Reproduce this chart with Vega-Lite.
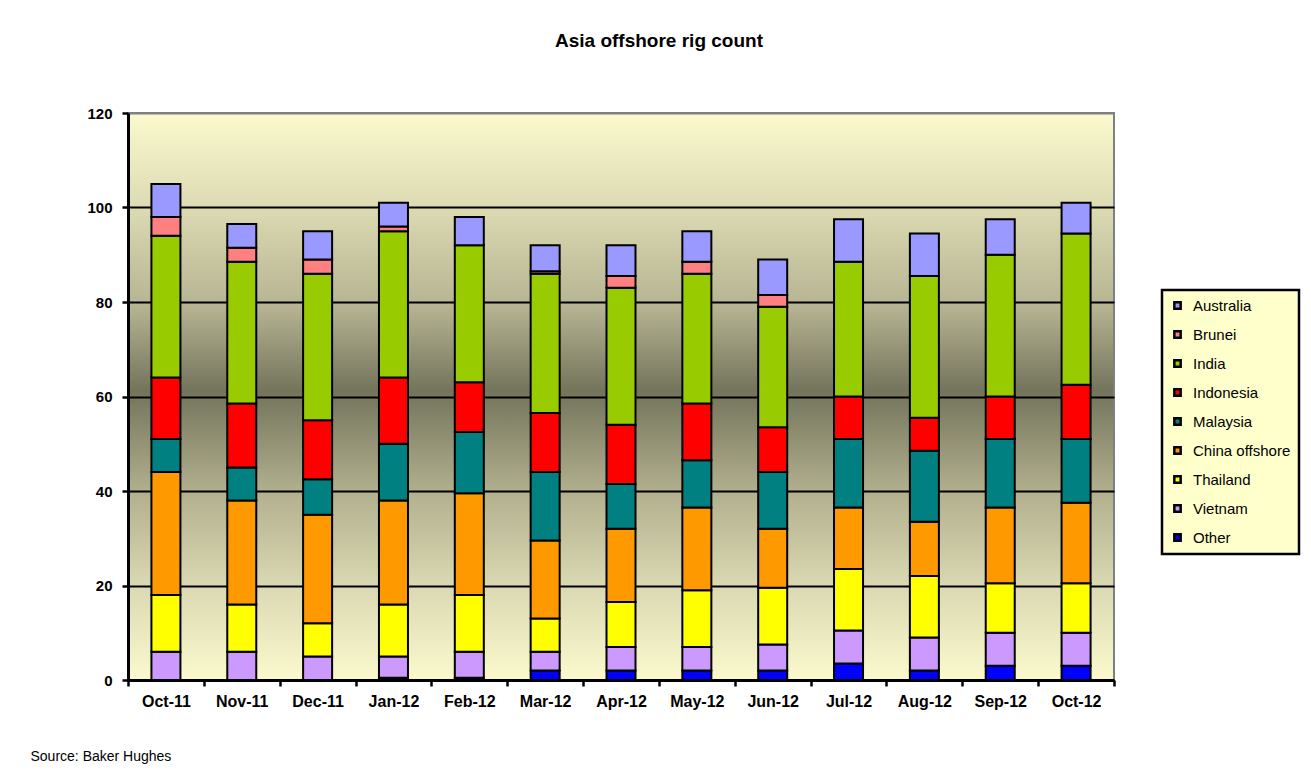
{
  "$schema": "https://vega.github.io/schema/vega-lite/v6.json",
  "width": 986,
  "height": 567,
  "autosize": {"type": "none"},
  "padding": {"left": 128, "top": 113, "right": 197, "bottom": 94},
  "background": "white",
  "title": {
    "text": "Asia offshore rig count",
    "font": "Liberation Sans",
    "fontSize": 19,
    "fontWeight": "bold",
    "color": "black",
    "anchor": "middle",
    "frame": "group",
    "dx": 38,
    "baseline": "alphabetic",
    "offset": 40
  },
  "data": {
    "values": [
      {"month": "Oct-11", "country": "Vietnam", "rigs": 6},
      {"month": "Oct-11", "country": "Thailand", "rigs": 12},
      {"month": "Oct-11", "country": "China offshore", "rigs": 26},
      {"month": "Oct-11", "country": "Malaysia", "rigs": 7},
      {"month": "Oct-11", "country": "Indonesia", "rigs": 13},
      {"month": "Oct-11", "country": "India", "rigs": 30},
      {"month": "Oct-11", "country": "Brunei", "rigs": 4},
      {"month": "Oct-11", "country": "Australia", "rigs": 7},
      {"month": "Nov-11", "country": "Vietnam", "rigs": 6},
      {"month": "Nov-11", "country": "Thailand", "rigs": 10},
      {"month": "Nov-11", "country": "China offshore", "rigs": 22},
      {"month": "Nov-11", "country": "Malaysia", "rigs": 7},
      {"month": "Nov-11", "country": "Indonesia", "rigs": 13.5},
      {"month": "Nov-11", "country": "India", "rigs": 30},
      {"month": "Nov-11", "country": "Brunei", "rigs": 3},
      {"month": "Nov-11", "country": "Australia", "rigs": 5},
      {"month": "Dec-11", "country": "Vietnam", "rigs": 5},
      {"month": "Dec-11", "country": "Thailand", "rigs": 7},
      {"month": "Dec-11", "country": "China offshore", "rigs": 23},
      {"month": "Dec-11", "country": "Malaysia", "rigs": 7.5},
      {"month": "Dec-11", "country": "Indonesia", "rigs": 12.5},
      {"month": "Dec-11", "country": "India", "rigs": 31},
      {"month": "Dec-11", "country": "Brunei", "rigs": 3},
      {"month": "Dec-11", "country": "Australia", "rigs": 6},
      {"month": "Jan-12", "country": "Other", "rigs": 0.5},
      {"month": "Jan-12", "country": "Vietnam", "rigs": 4.5},
      {"month": "Jan-12", "country": "Thailand", "rigs": 11},
      {"month": "Jan-12", "country": "China offshore", "rigs": 22},
      {"month": "Jan-12", "country": "Malaysia", "rigs": 12},
      {"month": "Jan-12", "country": "Indonesia", "rigs": 14},
      {"month": "Jan-12", "country": "India", "rigs": 31},
      {"month": "Jan-12", "country": "Brunei", "rigs": 1},
      {"month": "Jan-12", "country": "Australia", "rigs": 5},
      {"month": "Feb-12", "country": "Other", "rigs": 0.5},
      {"month": "Feb-12", "country": "Vietnam", "rigs": 5.5},
      {"month": "Feb-12", "country": "Thailand", "rigs": 12},
      {"month": "Feb-12", "country": "China offshore", "rigs": 21.5},
      {"month": "Feb-12", "country": "Malaysia", "rigs": 13},
      {"month": "Feb-12", "country": "Indonesia", "rigs": 10.5},
      {"month": "Feb-12", "country": "India", "rigs": 29},
      {"month": "Feb-12", "country": "Australia", "rigs": 6},
      {"month": "Mar-12", "country": "Other", "rigs": 2},
      {"month": "Mar-12", "country": "Vietnam", "rigs": 4},
      {"month": "Mar-12", "country": "Thailand", "rigs": 7},
      {"month": "Mar-12", "country": "China offshore", "rigs": 16.5},
      {"month": "Mar-12", "country": "Malaysia", "rigs": 14.5},
      {"month": "Mar-12", "country": "Indonesia", "rigs": 12.5},
      {"month": "Mar-12", "country": "India", "rigs": 29.5},
      {"month": "Mar-12", "country": "Brunei", "rigs": 0.5},
      {"month": "Mar-12", "country": "Australia", "rigs": 5.5},
      {"month": "Apr-12", "country": "Other", "rigs": 2},
      {"month": "Apr-12", "country": "Vietnam", "rigs": 5},
      {"month": "Apr-12", "country": "Thailand", "rigs": 9.5},
      {"month": "Apr-12", "country": "China offshore", "rigs": 15.5},
      {"month": "Apr-12", "country": "Malaysia", "rigs": 9.5},
      {"month": "Apr-12", "country": "Indonesia", "rigs": 12.5},
      {"month": "Apr-12", "country": "India", "rigs": 29},
      {"month": "Apr-12", "country": "Brunei", "rigs": 2.5},
      {"month": "Apr-12", "country": "Australia", "rigs": 6.5},
      {"month": "May-12", "country": "Other", "rigs": 2},
      {"month": "May-12", "country": "Vietnam", "rigs": 5},
      {"month": "May-12", "country": "Thailand", "rigs": 12},
      {"month": "May-12", "country": "China offshore", "rigs": 17.5},
      {"month": "May-12", "country": "Malaysia", "rigs": 10},
      {"month": "May-12", "country": "Indonesia", "rigs": 12},
      {"month": "May-12", "country": "India", "rigs": 27.5},
      {"month": "May-12", "country": "Brunei", "rigs": 2.5},
      {"month": "May-12", "country": "Australia", "rigs": 6.5},
      {"month": "Jun-12", "country": "Other", "rigs": 2},
      {"month": "Jun-12", "country": "Vietnam", "rigs": 5.5},
      {"month": "Jun-12", "country": "Thailand", "rigs": 12},
      {"month": "Jun-12", "country": "China offshore", "rigs": 12.5},
      {"month": "Jun-12", "country": "Malaysia", "rigs": 12},
      {"month": "Jun-12", "country": "Indonesia", "rigs": 9.5},
      {"month": "Jun-12", "country": "India", "rigs": 25.5},
      {"month": "Jun-12", "country": "Brunei", "rigs": 2.5},
      {"month": "Jun-12", "country": "Australia", "rigs": 7.5},
      {"month": "Jul-12", "country": "Other", "rigs": 3.5},
      {"month": "Jul-12", "country": "Vietnam", "rigs": 7},
      {"month": "Jul-12", "country": "Thailand", "rigs": 13},
      {"month": "Jul-12", "country": "China offshore", "rigs": 13},
      {"month": "Jul-12", "country": "Malaysia", "rigs": 14.5},
      {"month": "Jul-12", "country": "Indonesia", "rigs": 9},
      {"month": "Jul-12", "country": "India", "rigs": 28.5},
      {"month": "Jul-12", "country": "Australia", "rigs": 9},
      {"month": "Aug-12", "country": "Other", "rigs": 2},
      {"month": "Aug-12", "country": "Vietnam", "rigs": 7},
      {"month": "Aug-12", "country": "Thailand", "rigs": 13},
      {"month": "Aug-12", "country": "China offshore", "rigs": 11.5},
      {"month": "Aug-12", "country": "Malaysia", "rigs": 15},
      {"month": "Aug-12", "country": "Indonesia", "rigs": 7},
      {"month": "Aug-12", "country": "India", "rigs": 30},
      {"month": "Aug-12", "country": "Australia", "rigs": 9},
      {"month": "Sep-12", "country": "Other", "rigs": 3},
      {"month": "Sep-12", "country": "Vietnam", "rigs": 7},
      {"month": "Sep-12", "country": "Thailand", "rigs": 10.5},
      {"month": "Sep-12", "country": "China offshore", "rigs": 16},
      {"month": "Sep-12", "country": "Malaysia", "rigs": 14.5},
      {"month": "Sep-12", "country": "Indonesia", "rigs": 9},
      {"month": "Sep-12", "country": "India", "rigs": 30},
      {"month": "Sep-12", "country": "Australia", "rigs": 7.5},
      {"month": "Oct-12", "country": "Other", "rigs": 3},
      {"month": "Oct-12", "country": "Vietnam", "rigs": 7},
      {"month": "Oct-12", "country": "Thailand", "rigs": 10.5},
      {"month": "Oct-12", "country": "China offshore", "rigs": 17},
      {"month": "Oct-12", "country": "Malaysia", "rigs": 13.5},
      {"month": "Oct-12", "country": "Indonesia", "rigs": 11.5},
      {"month": "Oct-12", "country": "India", "rigs": 32},
      {"month": "Oct-12", "country": "Australia", "rigs": 6.5}
    ]
  },
  "transform": [
    {"calculate": "indexof(['Other','Vietnam','Thailand','China offshore','Malaysia','Indonesia','India','Brunei','Australia'], datum.country)", "as": "stackOrder"}
  ],
  "mark": {"type": "bar", "size": 29, "stroke": "black", "strokeWidth": 2},
  "encoding": {
    "x": {
      "field": "month",
      "type": "ordinal",
      "sort": ["Oct-11","Nov-11","Dec-11","Jan-12","Feb-12","Mar-12","Apr-12","May-12","Jun-12","Jul-12","Aug-12","Sep-12","Oct-12"],
      "scale": {"paddingInner": 0, "paddingOuter": 0},
      "axis": {
        "title": "Source: Baker Hughes",
        "titleFont": "Liberation Sans",
        "titleFontSize": 14,
        "titleFontWeight": "normal",
        "titleColor": "black",
        "titleAnchor": "start",
        "titleAlign": "left",
        "titleBaseline": "alphabetic",
        "titleX": -98,
        "titleY": 80,
        "labelAngle": 0,
        "labelFont": "Liberation Sans",
        "labelFontSize": 16,
        "labelFontWeight": "bold",
        "labelColor": "black",
        "labelPadding": 7,
        "tickBand": "extent",
        "tickSize": 6,
        "tickWidth": 2.5,
        "tickColor": "black",
        "domainColor": "black",
        "domainWidth": 3,
        "grid": false
      }
    },
    "y": {
      "field": "rigs",
      "type": "quantitative",
      "aggregate": "sum",
      "stack": "zero",
      "scale": {"domain": [0, 120], "nice": false},
      "axis": {
        "title": null,
        "values": [0, 20, 40, 60, 80, 100, 120],
        "labelFont": "Liberation Sans",
        "labelFontSize": 15,
        "labelFontWeight": "bold",
        "labelColor": "black",
        "labelPadding": 10,
        "tickSize": 6,
        "tickWidth": 2.5,
        "tickColor": "black",
        "domainColor": "black",
        "domainWidth": 3,
        "grid": true,
        "gridColor": {"condition": {"test": "datum.value == 120", "value": "#808080"}, "value": "black"},
        "gridWidth": 2,
        "gridOpacity": 1
      }
    },
    "color": {
      "field": "country",
      "type": "nominal",
      "scale": {
        "domain": ["Australia","Brunei","India","Indonesia","Malaysia","China offshore","Thailand","Vietnam","Other"],
        "range": ["#9999FF","#FF8080","#99CC00","#FF0000","#008080","#FF9900","#FFFF00","#CC99FF","#0000FF"]
      },
      "legend": {
        "title": null,
        "orient": "none",
        "legendX": 1034,
        "legendY": 177,
        "fillColor": "#FFFFCC",
        "strokeColor": "black",
        "padding": 8,
        "symbolType": "square",
        "symbolSize": 40,
        "symbolStrokeColor": "black",
        "symbolStrokeWidth": 2.5,
        "symbolOpacity": 1,
        "labelFont": "Liberation Sans",
        "labelFontSize": 15,
        "labelColor": "black",
        "labelOffset": 8,
        "rowPadding": 12,
        "encode": {"legend": {"update": {"strokeWidth": {"value": 2.5}}}}
      }
    },
    "order": {"field": "stackOrder", "type": "quantitative", "sort": "ascending"}
  },
  "config": {
    "view": {
      "stroke": "#808080",
      "strokeWidth": 2,
      "fill": {
        "gradient": "linear",
        "x1": 0, "y1": 0, "x2": 0, "y2": 1,
        "stops": [
          {"offset": 0, "color": "#FBF9CD"},
          {"offset": 0.17, "color": "#DCDAB2"},
          {"offset": 0.34, "color": "#B6B492"},
          {"offset": 0.49, "color": "#74745C"},
          {"offset": 0.52, "color": "#7E7E64"},
          {"offset": 0.67, "color": "#B2B08E"},
          {"offset": 0.83, "color": "#DAD8B1"},
          {"offset": 1, "color": "#FBF9CD"}
        ]
      }
    }
  }
}
